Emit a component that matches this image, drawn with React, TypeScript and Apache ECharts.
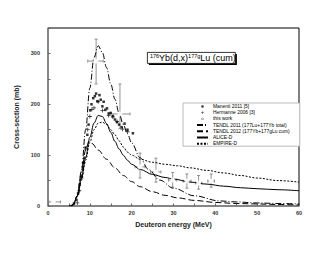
import React, { useEffect, useRef } from "react";
import * as echarts from "echarts";

const FONT = "'Liberation Sans', Arial, sans-serif";

// Deuteron energy (MeV), cross-section (mb)
const manenti2011: [number, number][] = [
  [6.2, 5], [6.8, 12], [7.2, 25], [7.6, 42], [8.0, 60], [8.3, 76], [8.7, 95], [9.0, 115],
  [9.4, 140], [9.7, 160], [10.1, 188], [10.4, 200], [10.8, 212], [11.2, 216], [11.5, 221],
  [11.8, 206], [12.3, 218], [12.6, 209], [13.0, 196], [13.3, 205], [13.7, 189], [14.1, 192],
  [14.5, 182], [15.0, 183], [15.5, 177], [16.0, 170], [16.5, 165], [17.0, 160], [17.6, 155],
  [18.3, 162], [19.0, 150], [20.3, 143],
];

const hermanne2006: [number, number][] = [
  [7.0, 6], [7.5, 30], [8.0, 55], [8.5, 85], [9.0, 112], [9.5, 150], [10.0, 176],
  [10.5, 190], [11.0, 193], [12.0, 205], [13.0, 188], [14.5, 178], [15.5, 175],
  [16.5, 166], [17.8, 151], [19.0, 146],
];

// [E, sigma, E low, E high, sigma low, sigma high]
const thisWork: number[][] = [
  [1.3, 8, 0.2, 3.0, 8, 8],
  [11.5, 285, 9.5, 13.2, 240, 328],
  [17.2, 181, 14.8, 19.6, 152, 240],
  [22.0, 77, 20.8, 23.2, 55, 104],
  [25.8, 67, 24.5, 27.0, 47, 94],
  [29.8, 51, 28.8, 30.8, 37, 66],
  [33.2, 49, 32.3, 34.2, 35, 63],
  [36.0, 45, 35.2, 36.8, 33, 60],
  [39.0, 49, 38.2, 39.8, 37, 63],
];

const tendl2011: [number, number][] = [
  [5, 0], [6, 2], [7, 20], [8, 70], [9, 150], [10, 232], [11, 292], [12, 315], [13, 302],
  [14, 272], [15, 240], [16, 210], [17, 182], [18, 160], [19, 142], [20, 124], [22, 95],
  [24, 72], [26.7, 51], [30, 35], [35, 20], [41, 10], [45, 8], [50, 6], [55, 5], [60, 4],
];

const tendl2012: [number, number][] = [
  [5.5, 0], [6, 2], [7, 20], [8, 65], [9, 110], [9.8, 127], [10.5, 123], [12, 110],
  [14, 92], [16, 75], [18, 60], [20, 48], [22, 38], [25, 28], [28, 21], [31, 16],
  [35, 11], [40, 7], [45, 5], [50, 4], [55, 3], [60, 2],
];

const aliceD: [number, number][] = [
  [5.5, 0], [6, 2], [7, 20], [8, 55], [9, 95], [10, 135], [11, 163], [12, 178], [13, 176],
  [14, 162], [15, 145], [16, 127], [17, 112], [18, 100], [19, 90], [20, 82], [22, 72],
  [25, 62], [28, 56], [30, 53], [34, 47], [38, 43], [42, 39], [46, 36], [50, 34],
  [55, 32], [60, 30],
];

const empireD: [number, number][] = [
  [5.5, 0], [6, 2], [7, 18], [8, 50], [9, 90], [10, 125], [11, 150], [12, 163], [13, 165],
  [14, 160], [15, 150], [16, 140], [17, 128], [18, 116], [19, 106], [20, 100], [22, 92],
  [25, 86], [28, 82], [31, 79], [34, 75], [38, 70], [42, 65], [46, 60], [50, 55],
  [55, 50], [60, 47],
];

const legendNames = [
  "Manenti 2011 [5]",
  "Hermanne 2006 [3]",
  "this work",
  "TENDL 2011 (177Lu+177Yb total)",
  "TENDL 2012 (177Yb+177gLu cum)",
  "ALICE-D",
  "EMPIRE-D",
];

const xTicks = [0, 10, 20, 30, 40, 50, 60];
const yTicks = [0, 100, 200, 300];

export default function App() {
  const ref = useRef<HTMLDivElement>(null);
  useEffect(() => {
    if (!ref.current) return;
    const chart = echarts.init(ref.current, undefined, { renderer: "svg" });
    const lineSeries = (name: string, data: [number, number][], type: any) => ({
      name,
      type: "line",
      data,
      showSymbol: false,
      symbol: "none",
      smooth: 0.35,
      smoothMonotone: "x",
      lineStyle: { color: "#000", width: 1, type },
      itemStyle: { color: "#000" },
      z: 3,
    });
    const errColor = "#777";
    const legendIcons: Record<string, string> = {
      "Manenti 2011 [5]": "path://M0 0M10 10M2.5 2.5H7.5V7.5H2.5Z",
      "Hermanne 2006 [3]": "path://M0 0M10 10M4.4 2H5.6V4.4H8V5.6H5.6V8H4.4V5.6H2V4.4H4.4Z",
      "this work": "path://M0 0M10 10M5 2.6A2.4 2.4 0 1 1 4.99 2.6ZM5 3.4A1.6 1.6 0 1 0 5.01 3.4Z",
    };
    chart.setOption({
      animation: false,
      grid: {
        left: 48, top: 28, right: 31, bottom: 49, show: true,
        borderColor: "#000", borderWidth: 1, backgroundColor: "transparent",
      },
      legend: {
        data: legendNames.map((n) =>
          legendIcons[n]
            ? { name: n, icon: legendIcons[n], itemStyle: { color: "#000", borderWidth: 0 } }
            : { name: n, itemStyle: { opacity: 0 } }
        ),
        orient: "vertical",
        left: 183,
        top: 103,
        padding: [1, 10, 0, 13],
        itemWidth: 11,
        itemHeight: 4.5,
        itemGap: 1.2,
        borderColor: "#aaa",
        borderWidth: 0.8,
        backgroundColor: "#fff",
        selectedMode: false,
        textStyle: { fontSize: 4.9, fontFamily: FONT, color: "#000", lineHeight: 4.5 },
      },
      xAxis: {
        type: "value", min: 0, max: 60, interval: 5,
        name: "Deuteron energy (MeV)", nameLocation: "middle", nameGap: 14,
        nameTextStyle: { fontSize: 7, fontWeight: "bold", fontFamily: FONT, color: "#222" },
        axisLine: { lineStyle: { color: "#888", width: 1.5 } },
        axisTick: { inside: true, length: 2.5, lineStyle: { color: "#666" } },
        axisLabel: {
          formatter: (v: number) => (xTicks.includes(v) ? String(v) : ""),
          fontSize: 5.5, fontWeight: "bold", fontFamily: FONT, color: "#333", margin: 4,
        },
        splitLine: { show: false },
      },
      yAxis: {
        type: "value", min: 0, max: 350, interval: 50,
        name: "Cross-section (mb)", nameLocation: "middle", nameGap: 18,
        nameTextStyle: { fontSize: 7, fontWeight: "bold", fontFamily: FONT, color: "#222" },
        axisLine: { show: true, lineStyle: { color: "#888", width: 1.5 } },
        axisTick: { show: true, inside: true, length: 2.5, lineStyle: { color: "#666" } },
        axisLabel: {
          formatter: (v: number) => (yTicks.includes(v) ? String(v) : ""),
          fontSize: 5.5, fontWeight: "bold", fontFamily: FONT, color: "#333", margin: 8,
        },
        splitLine: { show: false },
      },
      graphic: [
        {
          type: "group", left: 147, top: 52,
          children: [
            { type: "rect", shape: { x: 1.5, y: 1.5, width: 88, height: 11 }, style: { fill: "#000" } },
            { type: "rect", shape: { x: 0, y: 0, width: 88, height: 11 }, style: { fill: "#fff", stroke: "#000", lineWidth: 0.8 } },
            {
              type: "text", x: 2.5, y: 0.5,
              style: {
                text: "{s|176}{n|Yb(d,x)}{s|177g}{n|Lu (cum)}",
                rich: {
                  n: { fontSize: 9, fontFamily: FONT, fill: "#000", lineHeight: 10 },
                  s: { fontSize: 5.5, fontFamily: FONT, fill: "#000", lineHeight: 10, padding: [0, 0, 4, 0] },
                },
              },
            },
          ],
        },
      ],
      series: [
        {
          name: "errors",
          type: "custom",
          data: thisWork,
          z: 2,
          renderItem: (_p: any, api: any) => {
            const x = api.value(0), y = api.value(1);
            const xl = api.value(2), xh = api.value(3), yl = api.value(4), yh = api.value(5);
            const pl = api.coord([xl, y]);
            const ph = api.coord([xh, y]);
            const pb = api.coord([x, yl]);
            const pt = api.coord([x, yh]);
            const st = { stroke: errColor, lineWidth: 0.8 };
            const c = 1.5;
            const children: any[] = [
              { type: "line", shape: { x1: pl[0], y1: pl[1], x2: ph[0], y2: ph[1] }, style: st },
              { type: "line", shape: { x1: pl[0], y1: pl[1] - c, x2: pl[0], y2: pl[1] + c }, style: st },
              { type: "line", shape: { x1: ph[0], y1: ph[1] - c, x2: ph[0], y2: ph[1] + c }, style: st },
            ];
            if (yh > yl) {
              children.push(
                { type: "line", shape: { x1: pb[0], y1: pb[1], x2: pt[0], y2: pt[1] }, style: st },
                { type: "line", shape: { x1: pb[0] - c, y1: pb[1], x2: pb[0] + c, y2: pb[1] }, style: st },
                { type: "line", shape: { x1: pt[0] - c, y1: pt[1], x2: pt[0] + c, y2: pt[1] }, style: st },
              );
            }
            return { type: "group", children };
          },
        },
        lineSeries("TENDL 2011 (177Lu+177Yb total)", tendl2011, [6, 2, 1, 2]),
        lineSeries("TENDL 2012 (177Yb+177gLu cum)", tendl2012, [6, 3]),
        lineSeries("ALICE-D", aliceD, "solid"),
        lineSeries("EMPIRE-D", empireD, [2, 1.5]),
        {
          name: "Manenti 2011 [5]", type: "scatter", data: manenti2011,
          symbol: "rect", symbolSize: 2.5, itemStyle: { color: "#000" }, z: 4,
        },
        {
          name: "Hermanne 2006 [3]", type: "scatter", data: hermanne2006,
          symbol: "path://M4 0H6V4H10V6H6V10H4V6H0V4H4Z", symbolSize: 4,
          itemStyle: { color: "#000" }, z: 4,
        },
        {
          name: "this work", type: "scatter", data: thisWork.map((d) => [d[0], d[1]]),
          symbol: "emptyCircle", symbolSize: 3,
          itemStyle: { color: "#fff", borderColor: "#444", borderWidth: 0.8 }, z: 5,
        },
      ],
    });
    return () => chart.dispose();
  }, []);
  return (
    <div
      ref={ref}
      style={{ position: "absolute", left: 0, top: 0, width: 330, height: 255 }}
    />
  );
}
